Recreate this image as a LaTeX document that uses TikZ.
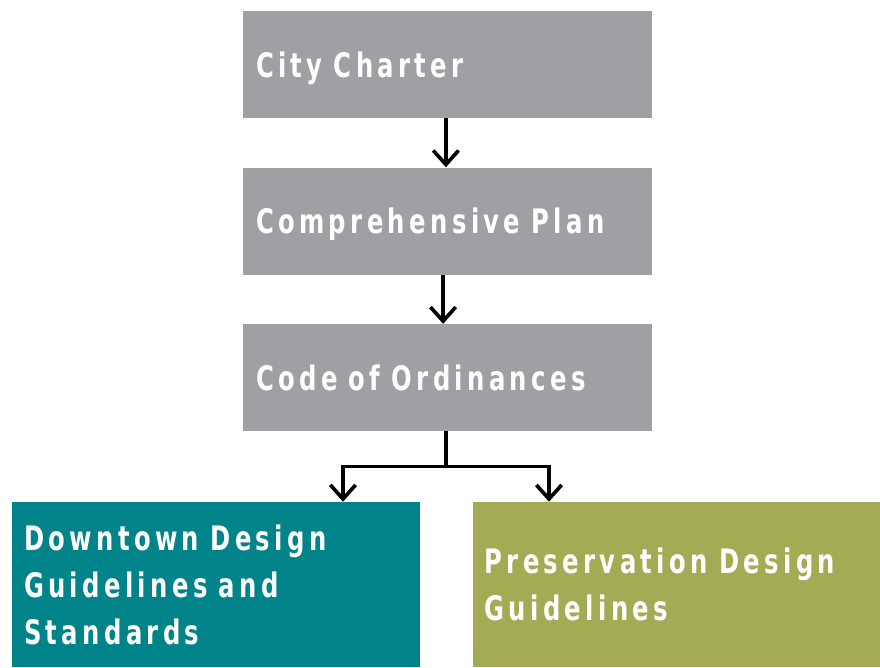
\documentclass[tikz,border=0pt]{standalone}
\usepackage{fontspec}
\setmainfont{DejaVu Sans Condensed}[LetterSpace=13, FakeStretch=0.8]
\hyphenpenalty=10000
\usetikzlibrary{arrows.meta, positioning}
\definecolor{boxgray}{HTML}{A0A0A4}
\definecolor{boxteal}{HTML}{008489}
\definecolor{boxolive}{HTML}{A4AB55}
\DeclareRobustCommand\boxfont{\bfseries\fontsize{24}{33.4}\selectfont\fontdimen2\font=0.45em\relax}
\tikzset{
        node distance=1.225cm, % gap between the stacked boxes
        link/.style={line width=2.6pt, -{Straight Barb[length=10pt,width=18pt,line width=2.6pt]}}, % open arrow heads
    }
\tikzstyle{textbox}=[rectangle,align=left,text=white,font=\boxfont]
\tikzstyle{docbox}=[textbox,minimum width=10.225cm,minimum height=2.675cm,text width=9.575cm,inner xsep=0.325cm,text depth=0pt]
\tikzstyle{guidebox}=[textbox,minimum width=10.2cm,minimum height=4.125cm,text width=9.6cm,inner xsep=0.3cm]

\begin{document}
\begin{tikzpicture}
    \useasboundingbox (0,0) rectangle (22,16.675);
    \node[docbox, fill=boxgray] (charter) at (11.1875,15.0625) {City Charter};
    \node[docbox, fill=boxgray, below=of charter] (plan) {Comprehensive Plan};
    \node[docbox, fill=boxgray, below=of plan] (ordinances) {Code of Ordinances};
    \node[guidebox, fill=boxteal] (downtown) at (5.4,2.0625) {Downtown Design\\Guidelines and\\Standards};
    \node[guidebox, fill=boxolive] (preservation) at (16.9125,2.0625) {Preservation Design\\Guidelines};

    \draw[link] ([xshift=-0.04cm]charter.south) -- ([xshift=-0.04cm]plan.north);
    \draw[link] ([xshift=-0.11cm]plan.south) -- ([xshift=-0.11cm]ordinances.north);
    \coordinate[below=0.875cm of ordinances.south, xshift=-0.04cm] (split);
    \draw[line width=2.6pt] ([xshift=-0.04cm]ordinances.south) -- (split);
    \draw[link] (split) -| ([xshift=3.175cm]downtown.north);
    \draw[link] (split) -| ([xshift=-3.1875cm]preservation.north);
\end{tikzpicture}
\end{document}
